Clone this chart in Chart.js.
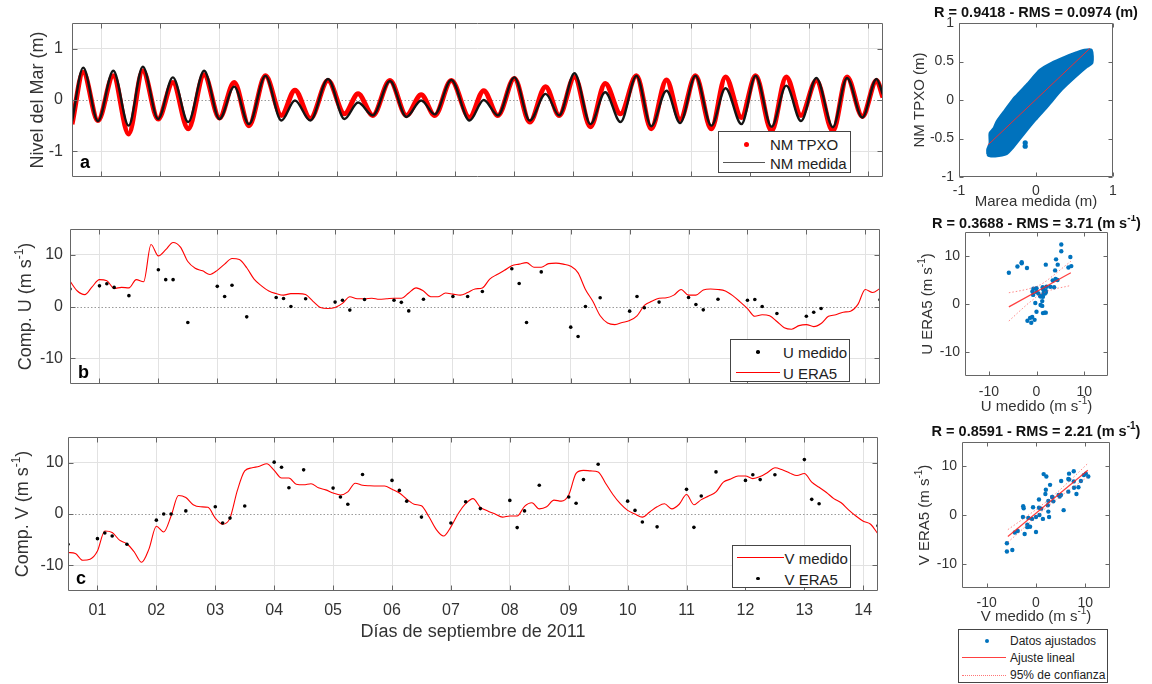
<!DOCTYPE html>
<html lang="es">
<head>
<meta charset="utf-8">
<title>Nivel del mar y viento – septiembre de 2011</title>
<script src="https://cdn.jsdelivr.net/npm/chart.js@4.4.1/dist/chart.umd.min.js"></script>
<style>
  html, body { margin: 0; padding: 0; background: #fff; }
  #lienzo { position: relative; width: 1152px; height: 684px; overflow: hidden;
            font-family: 'Liberation Sans', Arial, Helvetica, sans-serif; }
  #lienzo canvas { position: absolute; }
  .leyenda { position: absolute; box-sizing: border-box; border: 1px solid #454545; background: #fff; color: #222; }
  .leyenda span { position: absolute; display: block; }
  .leyenda .txt { white-space: nowrap; line-height: 1; transform: translateY(-50%); }
</style>
</head>
<body>
<div id="lienzo">
  <canvas id="gMarea" width="900" height="200" style="left:0;top:0"></canvas>
  <canvas id="gU" width="900" height="210" style="left:0;top:200px"></canvas>
  <canvas id="gV" width="900" height="274" style="left:0;top:410px"></canvas>
  <canvas id="dMarea" width="272" height="215" style="left:880px;top:0"></canvas>
  <canvas id="dU" width="272" height="200" style="left:880px;top:215px"></canvas>
  <canvas id="dV" width="272" height="215" style="left:880px;top:415px"></canvas>
</div>
<script>
// ---------------- Datos ----------------
// Días de septiembre de 2011 (1 = 01/09 00:00)
const DIAS = [1, 2, 3, 4, 5, 6, 7, 8, 9, 10, 11, 12, 13, 14];
const ETIQ_DIAS = ['01', '02', '03', '04', '05', '06', '07', '08', '09', '10', '11', '12', '13', '14'];

// Nivel del mar: instantes de pleamar / bajamar (día) y niveles (m)
const tMarea = [0.50, 0.69, 0.94, 1.20, 1.46, 1.70, 1.96, 2.21, 2.47, 2.74, 3.00, 3.25, 3.50, 3.78,
  4.05, 4.28, 4.54, 4.84, 5.12, 5.35, 5.60, 5.89, 6.17, 6.42, 6.65, 6.93, 7.24, 7.48, 7.72, 8.00,
  8.26, 8.53, 8.76, 9.02, 9.29, 9.54, 9.80, 10.07, 10.32, 10.58, 10.81, 11.07, 11.34, 11.58, 11.85,
  12.09, 12.36, 12.61, 12.86, 13.12, 13.40, 13.64, 13.90, 14.14, 14.25];
const nmTpxo = [-0.47, 0.54, -0.40, 0.47, -0.66, 0.57, -0.37, 0.34, -0.56, 0.49, -0.35, 0.34, -0.50, 0.47,
  -0.30, 0.19, -0.36, 0.38, -0.27, 0.12, -0.30, 0.38, -0.30, 0.10, -0.30, 0.38, -0.34, 0.18, -0.30, 0.42,
  -0.43, 0.26, -0.30, 0.45, -0.52, 0.32, -0.27, 0.47, -0.56, 0.39, -0.38, 0.47, -0.56, 0.45, -0.34,
  0.47, -0.60, 0.45, -0.30, 0.38, -0.60, 0.45, -0.32, 0.38, 0.05];
const nmMedida = [-0.42, 0.63, -0.41, 0.57, -0.50, 0.65, -0.37, 0.44, -0.43, 0.57, -0.37, 0.26, -0.47, 0.47,
  -0.40, -0.01, -0.40, 0.41, -0.37, -0.05, -0.30, 0.37, -0.33, -0.01, -0.28, 0.39, -0.40, 0.00, -0.30, 0.44,
  -0.40, 0.12, -0.30, 0.52, -0.47, 0.15, -0.43, 0.47, -0.51, 0.18, -0.45, 0.47, -0.50, 0.23, -0.47,
  0.47, -0.52, 0.28, -0.41, 0.43, -0.53, 0.43, -0.34, 0.41, 0.10];

// Observaciones de viento (día) y componentes medidas (m/s)
const tObs = [0.5, 1, 1.125, 1.25, 1.5, 2, 2.125, 2.25, 2.5, 3, 3.125, 3.25, 3.5, 4, 4.125, 4.25, 4.5,
  5, 5.125, 5.25, 5.5, 6, 6.125, 6.25, 6.5, 7, 7.25, 7.5, 8, 8.125, 8.25, 8.5, 9, 9.125, 9.25, 9.5,
  10, 10.125, 10.25, 10.5, 11, 11.125, 11.25, 11.5, 12, 12.125, 12.25, 12.5, 13, 13.125, 13.25, 14.25];
const uMedido = [3.4, 4.0, 4.4, 3.7, 2.1, 7.1, 5.2, 5.2, -3.1, 3.9, 1.95, 4.1, -2.0, 1.75, 1.55, 0.0, 1.5,
  0.85, 1.2, -0.7, 1.35, 1.2, 0.8, -0.85, 1.4, 1.95, 1.95, 2.9, 7.3, 4.45, -3.1, 6.7, -4.0, -5.8, 0.0, 1.7,
  -0.9, 1.95, -0.25, 0.85, 1.75, 0.4, -0.65, 1.4, 1.2, 1.35, 0.0, -1.35, -1.9, -1.1, -0.4, 1.3];
const vMedido = [-5.9, -4.8, -3.7, -4.3, -5.9, -1.2, 0.0, 0.0, 0.6, 1.4, -1.75, -0.8, 1.55, 10.1, 9.1, 5.1, 8.6,
  5.05, 3.3, 1.9, 7.7, 6.55, 4.6, 2.5, -0.6, -1.75, 2.4, 1.05, 2.65, -2.65, 0.6, 5.6, 3.3, 2.1, 6.7, 9.7,
  2.5, 0.7, -1.55, -2.5, 4.8, -2.6, 3.5, 8.2, 6.55, 7.65, 6.7, 7.65, 10.6, 2.85, 2.0, -2.3];

// ERA5 trihorario desde el 31/08 12:00 (m/s)
const ERA5_INICIO = 0.5, ERA5_PASO = 0.125;
const uEra5 = [
  4.9, 3.0, 2.3, 3.8,                          // 31/08
  5.2, 5.0, 3.5, 3.7, 3.6, 5.2, 4.8, 12.0,     // 01
  9.8, 11.0, 12.4, 11.5, 8.7, 7.4, 6.9, 6.2,   // 02
  7.0, 8.2, 9.3, 9.1, 7.5, 5.3, 4.0, 3.0,      // 03
  2.5, 2.2, 2.5, 2.5, 2.3, 1.0, -0.2, -0.4,    // 04
  -0.2, 0.6, 1.9, 1.5, 1.5, 1.6, 1.4, 1.5,     // 05
  1.6, 1.6, 2.6, 3.6, 3.0, 1.9, 1.9, 2.6,      // 06
  2.4, 2.2, 2.7, 3.4, 3.6, 5.3, 6.2, 7.0,      // 07
  7.9, 8.2, 8.5, 7.6, 7.6, 8.3, 8.4, 8.2,      // 08
  7.8, 6.5, 3.3, 1.0, -1.8, -3.2, -3.5, -3.1,  // 09
  -2.7, -1.8, 0.2, 1.0, 1.6, 1.7, 2.2, 3.3,    // 10
  2.2, 2.2, 3.2, 3.4, 3.3, 3.0, 2.1, 0.9,      // 11
  -0.4, -1.9, -1.6, -1.8, -2.9, -4.1, -4.4, -3.7, // 12
  -3.5, -3.9, -3.3, -1.9, -1.6, -1.1, -0.9, 0.4,  // 13
  3.3, 2.7, 3.5                                // 14
];
const vEra5 = [
  -7.5, -7.7, -9.0, -8.8,                      // 31/08
  -7.2, -3.3, -3.6, -5.1, -5.8, -7.4, -9.4, -6.8, // 01
  -2.4, -3.5, -0.4, 3.6, 3.2, 1.8, 1.4, 1.3,   // 02
  -0.8, -2.0, -0.8, 4.6, 8.4, 9.0, 9.3, 9.8,   // 03
  8.5, 7.0, 7.0, 5.8, 5.7, 5.9, 5.1, 4.7,      // 04
  4.1, 3.7, 4.3, 6.0, 5.6, 5.5, 5.45, 5.45,    // 05
  4.8, 4.1, 2.9, 1.9, 1.6, -0.5, -3.0, -4.3,   // 06
  -2.5, 0.1, 2.0, 3.0, 1.3, 0.6, 0.0, -0.6,    // 07
  -0.4, -0.4, 1.5, 2.2, 1.0, 1.4, 2.7, 2.5,    // 08
  3.7, 7.9, 8.5, 8.4, 8.2, 6.0, 3.8, 2.0,      // 09
  0.7, 0.0, -0.6, 0.4, 1.4, 2.0, 1.0, 1.9,     // 10
  3.8, 1.8, 2.8, 3.5, 4.3, 6.2, 6.8, 7.4,      // 11
  7.4, 6.9, 7.3, 8.1, 9.0, 8.6, 8.0, 7.5,      // 12
  7.9, 6.2, 5.2, 4.2, 3.0, 2.2, 0.8, -0.4,     // 13
  -1.4, -2.0, -3.9                             // 14
];

// Dispersión de marea: contorno de la nube de puntos y grupo aislado (m)
const contornoMarea = [[-0.63, -0.70], [-0.63, -0.64], [-0.60, -0.56], [-0.60, -0.43], [-0.55, -0.37],
  [-0.51, -0.28], [-0.40, -0.13], [-0.27, 0.04], [-0.10, 0.22], [0.05, 0.39], [0.20, 0.48], [0.38, 0.56],
  [0.51, 0.61], [0.63, 0.65], [0.72, 0.65], [0.73, 0.48], [0.66, 0.43], [0.51, 0.30], [0.33, 0.13],
  [0.16, -0.07], [-0.01, -0.26], [-0.19, -0.48], [-0.31, -0.63], [-0.38, -0.70], [-0.53, -0.73],
  [-0.62, -0.72], [-0.63, -0.70]];
const islaMarea = [[-0.14, -0.555], [-0.14, -0.60]];

// Ajustes lineales y bandas de confianza del 95 %
const ajusteMarea = [[-0.62, -0.58], [0.70, 0.67]];
const ajusteU = [[-5.8, -0.6], [7.2, 6.5]];
const confUSup = [[-5.8, 2.35], [-4, 2.65], [-2, 3.05], [0, 3.65], [1, 4.1], [2, 4.75], [4, 6.3], [6, 7.95], [7.2, 8.9]];
const confUInf = [[-5.8, -3.55], [-4, -1.9], [-2, -0.1], [0, 1.5], [1, 2.1], [2, 2.6], [4, 3.2], [6, 3.6], [7.2, 3.85]];
const ajusteV = [[-5.7, -4.4], [10.5, 9.2]];
const confVSup = [[-5.7, -3.0], [-3, -1.09], [0, 1.10], [2.5, 3.08], [5, 5.29], [8, 8.14], [10.5, 10.6]];
const confVInf = [[-5.7, -5.6], [-3, -3.17], [0, -0.32], [2.5, 1.88], [5, 3.87], [8, 6.06], [10.5, 7.85]];

// Marcas de ejes
const MARCAS_NIVEL = [-1, 0, 1], ETIQ_NIVEL = ['-1', '0', '1'];
const MARCAS_VIENTO = [-10, 0, 10], ETIQ_VIENTO = ['-10', '0', '10'];
const MARCAS_DISP_X = [-1, 0, 1], ETIQ_DISP_X = ['-1', '0', '1'];
const MARCAS_DISP_Y = [-1, -0.5, 0, 0.5, 1], ETIQ_DISP_Y = ['-1', '-0.5', '0', '0.5', '1'];

// ---------------- Utilidades ----------------
const FUENTE = "'Liberation Sans', Arial, Helvetica, sans-serif";
Chart.defaults.font.family = FUENTE;
Chart.defaults.color = '#333';

const AZUL = '#0072BD', ROJO = '#ff0000';
const tEra5 = uEra5.map((_, k) => ERA5_INICIO + k * ERA5_PASO);
const serie = (t, v) => t.map((ti, i) => ({ x: ti, y: v[i] }));
const pares = (arr) => arr.map(([x, y]) => ({ x, y }));
const era5EnObs = (era5) => tObs.map(t => era5[Math.round((t - ERA5_INICIO) / ERA5_PASO)]);
const conUnidad = (txt) => [[txt + ' (m s', 0], ['-1', 1], [')', 0]];

function rotulo(ctx, it) {
  const tam = it.tam, tamSup = Math.round(tam * 0.68);
  const peso = it.negrita ? 'bold ' : '';
  const fN = `${peso}${tam}px ${FUENTE}`, fS = `${peso}${tamSup}px ${FUENTE}`;
  ctx.save();
  ctx.translate(it.x, it.y);
  if (it.giro) ctx.rotate(it.giro * Math.PI / 180);
  ctx.fillStyle = it.color || '#333';
  ctx.textAlign = 'left';
  ctx.textBaseline = it.base ? 'alphabetic' : 'middle';
  let w = 0;
  for (const [t, s] of it.partes) { ctx.font = s ? fS : fN; w += ctx.measureText(t).width; }
  let cx = it.izq ? 0 : -w / 2;
  for (const [t, s] of it.partes) {
    ctx.font = s ? fS : fN;
    ctx.fillText(t, cx, s ? -tam * 0.36 : 0);
    cx += ctx.measureText(t).width;
  }
  ctx.restore();
}

// Caja de ejes con marcas hacia dentro, línea de cero punteada y rótulos
function marco(o) {
  return {
    id: 'marco',
    beforeDatasetsDraw(chart) {
      if (!o.cero) return;
      const { ctx, chartArea: a, scales: { y } } = chart;
      const py = Math.round(y.getPixelForValue(0)) + 0.5;
      ctx.save();
      ctx.strokeStyle = '#9a9a9a'; ctx.lineWidth = 1; ctx.setLineDash([1.5, 2]);
      ctx.beginPath(); ctx.moveTo(a.left, py); ctx.lineTo(a.right, py); ctx.stroke();
      ctx.restore();
    },
    afterDatasetsDraw(chart) {
      const { ctx, chartArea: a, scales: { x, y } } = chart;
      const L = o.largo;
      const l = Math.round(a.left) + 0.5, r = Math.round(a.right) - 0.5;
      const t = Math.round(a.top) + 0.5, b = Math.round(a.bottom) - 0.5;
      ctx.save();
      ctx.strokeStyle = '#666'; ctx.lineWidth = 1;
      ctx.beginPath();
      ctx.rect(l, t, r - l, b - t);
      for (const tk of x.ticks) {
        const px = Math.round(x.getPixelForValue(tk.value)) + 0.5;
        ctx.moveTo(px, b); ctx.lineTo(px, b - L);
        ctx.moveTo(px, t); ctx.lineTo(px, t + L);
      }
      for (const tk of y.ticks) {
        const py = Math.round(y.getPixelForValue(tk.value)) + 0.5;
        ctx.moveTo(l, py); ctx.lineTo(l + L, py);
        ctx.moveTo(r, py); ctx.lineTo(r - L, py);
      }
      ctx.stroke();
      ctx.restore();
      for (const it of o.textos) rotulo(ctx, it);
    }
  };
}

function eje(o) {
  return {
    type: 'linear', min: o.min, max: o.max,
    afterBuildTicks: s => { s.ticks = o.marcas.map(v => ({ value: v })); },
    afterFit: s => { if (o.ancho != null) s.width = o.ancho; if (o.alto != null) s.height = o.alto; },
    grid: {
      display: !!o.rejilla, drawTicks: false, lineWidth: 1,
      color: c => (o.ceroPunteado && c.tick && c.tick.value === 0) ? 'rgba(0,0,0,0)' : '#e2e2e2'
    },
    border: { display: false },
    ticks: {
      display: !!o.etiquetas, padding: o.pad || 0, autoSkip: false, maxRotation: 0,
      font: { size: o.tam || 16 }, color: '#333',
      callback: v => o.etiquetas ? o.etiquetas[o.marcas.indexOf(v)] : ''
    }
  };
}

function opciones(padding, x, y) {
  return {
    responsive: false, animation: false, devicePixelRatio: 1, events: [],
    layout: { padding, autoPadding: false },
    plugins: { legend: { display: false }, tooltip: { enabled: false } },
    scales: { x, y }
  };
}

const linea = (data, color, ancho, extra) => Object.assign({
  type: 'line', data, borderColor: color, borderWidth: ancho, pointRadius: 0, fill: false
}, extra || {});
const puntos = (data, color, radio, extra) => Object.assign({
  type: 'scatter', data, backgroundColor: color, borderWidth: 0, pointRadius: radio, showLine: false
}, extra || {});

// ---------------- a) Nivel del mar ----------------
new Chart(document.getElementById('gMarea'), {
  type: 'line',
  data: { datasets: [
    linea(serie(tMarea, nmMedida), '#141414', 2.4, { label: 'NM medida', cubicInterpolationMode: 'monotone', order: 0 }),
    linea(serie(tMarea, nmTpxo), ROJO, 5, { label: 'NM TPXO', cubicInterpolationMode: 'monotone', order: 1 })
  ]},
  options: opciones({ top: 23, right: 17, left: 0, bottom: 0 },
    eje({ min: 0.5, max: 14.25, marcas: DIAS, alto: 23, rejilla: true }),
    eje({ min: -1.5, max: 1.5, marcas: MARCAS_NIVEL, etiquetas: ETIQ_NIVEL, ancho: 72, pad: 9, rejilla: true, ceroPunteado: true })),
  plugins: [marco({ cero: true, largo: 5, textos: [
    { partes: [['Nivel del Mar (m)', 0]], x: 38, y: 100, giro: -90, tam: 18 },
    { partes: [['a', 0]], x: 80, y: 168, base: true, izq: true, negrita: true, tam: 18, color: '#000' }
  ]})]
});

// ---------------- b) Componente U ----------------
new Chart(document.getElementById('gU'), {
  type: 'line',
  data: { datasets: [
    puntos(serie(tObs, uMedido), '#000', 1.8, { label: 'U medido', order: 0 }),
    linea(serie(tEra5, uEra5), ROJO, 1.1, { label: 'U ERA5', cubicInterpolationMode: 'monotone', order: 1 })
  ]},
  options: opciones({ top: 29, right: 20, left: 0, bottom: 0 },
    eje({ min: 0.5, max: 14.25, marcas: DIAS, alto: 26, rejilla: true }),
    eje({ min: -15, max: 15, marcas: MARCAS_VIENTO, etiquetas: ETIQ_VIENTO, ancho: 70, pad: 7, rejilla: true, ceroPunteado: true })),
  plugins: [marco({ cero: true, largo: 5, textos: [
    { partes: conUnidad('Comp. U'), x: 26, y: 106.5, giro: -90, tam: 18 },
    { partes: [['b', 0]], x: 78, y: 178, base: true, izq: true, negrita: true, tam: 18, color: '#000' }
  ]})]
});

// ---------------- c) Componente V ----------------
new Chart(document.getElementById('gV'), {
  type: 'line',
  data: { datasets: [
    puntos(serie(tObs, vMedido), '#000', 1.8, { label: 'V ERA5', order: 0 }),
    linea(serie(tEra5, vEra5), ROJO, 1.1, { label: 'V medido', cubicInterpolationMode: 'monotone', order: 1 })
  ]},
  options: opciones({ top: 27, right: 22, left: 0, bottom: 0 },
    eje({ min: 0.5, max: 14.25, marcas: DIAS, etiquetas: ETIQ_DIAS, alto: 93, pad: 10, rejilla: true }),
    eje({ min: -15, max: 15, marcas: MARCAS_VIENTO, etiquetas: ETIQ_VIENTO, ancho: 68, pad: 4.5, rejilla: true, ceroPunteado: true })),
  plugins: [marco({ cero: true, largo: 5, textos: [
    { partes: conUnidad('Comp. V'), x: 23, y: 104, giro: -90, tam: 18 },
    { partes: [['c', 0]], x: 76, y: 174, base: true, izq: true, negrita: true, tam: 18, color: '#000' },
    { partes: [['Días de septiembre de 2011', 0]], x: 473, y: 222, tam: 18 }
  ]})]
});

// ---------------- Dispersión: marea ----------------
new Chart(document.getElementById('dMarea'), {
  type: 'scatter',
  data: { datasets: [
    linea(pares(ajusteMarea), 'rgba(255,40,40,0.9)', 1, { order: 0 }),
    linea(pares(contornoMarea), AZUL, 2.5, { fill: 'shape', backgroundColor: AZUL, tension: 0.25, borderJoinStyle: 'round', order: 2 }),
    puntos(pares(islaMarea), AZUL, 2.6, { order: 1 })
  ]},
  options: opciones({ top: 23, right: 39, left: 0, bottom: 0 },
    eje({ min: -1, max: 1, marcas: MARCAS_DISP_X, etiquetas: ETIQ_DISP_X, alto: 38, pad: 6, tam: 14 }),
    eje({ min: -1, max: 1, marcas: MARCAS_DISP_Y, etiquetas: ETIQ_DISP_Y, ancho: 79, pad: 5, tam: 14 })),
  plugins: [marco({ cero: false, largo: 4, textos: [
    { partes: [['R = 0.9418 - RMS = 0.0974 (m)', 0]], x: 156, y: 12.5, tam: 14.5, negrita: true, color: '#111' },
    { partes: [['NM TPXO (m)', 0]], x: 40, y: 100, giro: -90, tam: 15 },
    { partes: [['Marea medida (m)', 0]], x: 156, y: 202, tam: 15 }
  ]})]
});

// ---------------- Dispersión: U ----------------
const uEra5Obs = era5EnObs(uEra5);
new Chart(document.getElementById('dU'), {
  type: 'scatter',
  data: { datasets: [
    linea(pares(ajusteU), 'rgba(255,30,30,0.85)', 1.2, { order: 0 }),
    linea(pares(confUSup), 'rgba(255,60,60,0.6)', 1, { borderDash: [1.5, 2], order: 0 }),
    linea(pares(confUInf), 'rgba(255,60,60,0.6)', 1, { borderDash: [1.5, 2], order: 0 }),
    puntos(uMedido.map((u, i) => ({ x: u, y: uEra5Obs[i] })), AZUL, 2.2, { order: 1 })
  ]},
  options: opciones({ top: 17, right: 44, left: 0, bottom: 0 },
    eje({ min: -15, max: 15, marcas: MARCAS_VIENTO, etiquetas: ETIQ_VIENTO, alto: 39, pad: 8, tam: 14 }),
    eje({ min: -15, max: 15, marcas: MARCAS_VIENTO, etiquetas: ETIQ_VIENTO, ancho: 85, pad: 5, tam: 14 })),
  plugins: [marco({ cero: false, largo: 4, textos: [
    { partes: [['R = 0.3688 - RMS = 3.71 (m s', 0], ['-1', 1], [')', 0]], x: 156.5, y: 8.5, tam: 14.5, negrita: true, color: '#111' },
    { partes: conUnidad('U ERA5'), x: 48, y: 89, giro: -90, tam: 15 },
    { partes: conUnidad('U medido'), x: 156.5, y: 191.5, tam: 15 }
  ]})]
});

// ---------------- Dispersión: V ----------------
const vEra5Obs = era5EnObs(vEra5);
new Chart(document.getElementById('dV'), {
  type: 'scatter',
  data: { datasets: [
    linea(pares(ajusteV), 'rgba(255,30,30,0.85)', 1.2, { order: 0 }),
    linea(pares(confVSup), 'rgba(255,60,60,0.6)', 1, { borderDash: [1.5, 2], order: 0 }),
    linea(pares(confVInf), 'rgba(255,60,60,0.6)', 1, { borderDash: [1.5, 2], order: 0 }),
    puntos(vMedido.map((v, i) => ({ x: v, y: vEra5Obs[i] })), AZUL, 2.2, { order: 1 })
  ]},
  options: opciones({ top: 27, right: 42, left: 0, bottom: 0 },
    eje({ min: -15, max: 15, marcas: MARCAS_VIENTO, etiquetas: ETIQ_VIENTO, alto: 42, pad: 7, tam: 14 }),
    eje({ min: -15, max: 15, marcas: MARCAS_VIENTO, etiquetas: ETIQ_VIENTO, ancho: 82, pad: 5, tam: 14 })),
  plugins: [marco({ cero: false, largo: 4, textos: [
    { partes: [['R = 0.8591 - RMS = 2.21 (m s', 0], ['-1', 1], [')', 0]], x: 156, y: 16.7, tam: 14.5, negrita: true, color: '#111' },
    { partes: conUnidad('V ERA5'), x: 45, y: 100, giro: -90, tam: 15 },
    { partes: conUnidad('V medido'), x: 156, y: 202, tam: 15 }
  ]})]
});

// ---------------- Leyendas ----------------
function leyenda(cfg) {
  const d = document.createElement('div');
  d.className = 'leyenda';
  Object.assign(d.style, { left: cfg.x + 'px', top: cfg.y + 'px', width: cfg.w + 'px', height: cfg.h + 'px', fontSize: cfg.tam + 'px' });
  for (const f of cfg.filas) {
    const s = document.createElement('span');
    if (f.tipo === 'punto') {
      Object.assign(s.style, { left: (f.x - f.d / 2) + 'px', top: (f.y - f.d / 2) + 'px', width: f.d + 'px', height: f.d + 'px', borderRadius: '50%', background: f.color });
    } else {
      Object.assign(s.style, { left: f.x0 + 'px', top: (f.y - f.grosor / 2) + 'px', width: (f.x1 - f.x0) + 'px', height: '0px', borderTop: `${f.grosor}px ${f.estilo || 'solid'} ${f.color}` });
    }
    d.appendChild(s);
    const t = document.createElement('span');
    t.className = 'txt';
    t.textContent = f.texto;
    Object.assign(t.style, { left: cfg.xt + 'px', top: f.y + 'px' });
    d.appendChild(t);
  }
  document.getElementById('lienzo').appendChild(d);
}

leyenda({ x: 718, y: 131, w: 133, h: 42, tam: 15, xt: 51, filas: [
  { texto: 'NM TPXO', tipo: 'punto', x: 27, y: 12, d: 5, color: ROJO },
  { texto: 'NM medida', tipo: 'linea', x0: 4, x1: 46, y: 31, grosor: 1.5, color: '#555' }
]});
leyenda({ x: 730, y: 339, w: 120, h: 43, tam: 15, xt: 52, filas: [
  { texto: 'U medido', tipo: 'punto', x: 27, y: 12, d: 3.5, color: '#000' },
  { texto: 'U ERA5', tipo: 'linea', x0: 5, x1: 49, y: 33, grosor: 1.2, color: ROJO }
]});
leyenda({ x: 732, y: 545, w: 119, h: 43, tam: 15, xt: 51.5, filas: [
  { texto: 'V medido', tipo: 'linea', x0: 4, x1: 50.5, y: 11.5, grosor: 1.2, color: ROJO },
  { texto: 'V ERA5', tipo: 'punto', x: 25, y: 32.5, d: 3.5, color: '#000' }
]});
leyenda({ x: 958, y: 629, w: 150, h: 54, tam: 12, xt: 51, filas: [
  { texto: 'Datos ajustados', tipo: 'punto', x: 27.5, y: 10.5, d: 4, color: AZUL },
  { texto: 'Ajuste lineal', tipo: 'linea', x0: 3, x1: 47, y: 28, grosor: 1.2, color: 'rgba(255,30,30,0.85)' },
  { texto: '95% de confianza', tipo: 'linea', x0: 3, x1: 47, y: 45, grosor: 1, color: 'rgba(255,60,60,0.7)', estilo: 'dotted' }
]});
</script>
</body>
</html>
